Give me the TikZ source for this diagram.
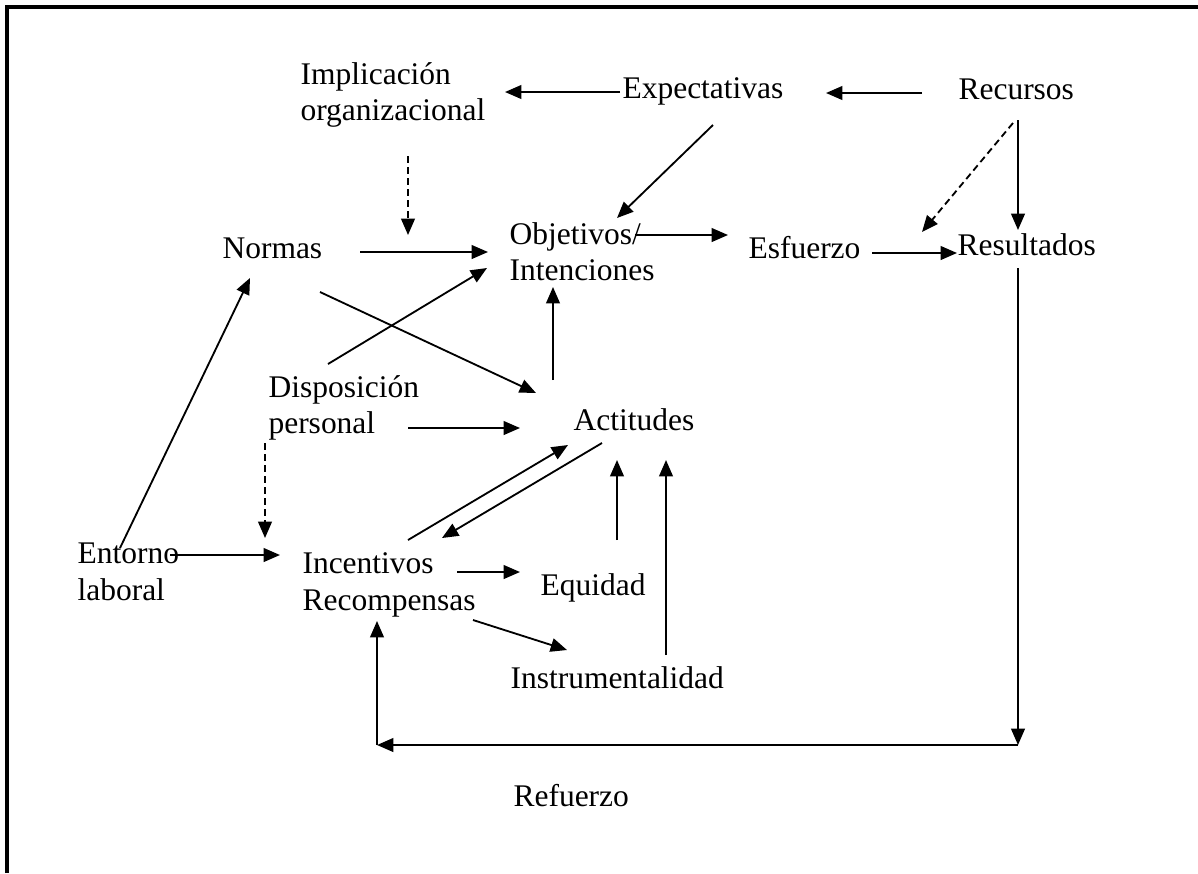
\documentclass[tikz,border=0pt]{standalone}
\usepackage{fontspec}
\setmainfont{Liberation Serif}
\usetikzlibrary{arrows.meta}
\begin{document}
\begin{tikzpicture}[x=0.381pt,y=-0.381pt,
  lbl/.style={anchor=base west,inner sep=0pt,font=\fontsize{12pt}{13.8pt}\selectfont},
  conn/.style={line width=0.7pt,-{Triangle[length=6.2pt,width=5.2pt]}},
  dconn/.style={conn,dash pattern=on 2.6pt off 1.6pt},
  frameline/.style={line width=1.15pt}]
\useasboundingbox (0,0) rectangle (1198,873);
\draw[frameline] (7,873) -- (7,7) -- (1198,7);
% labels
\node[lbl] (impl1) at (300,84) {Implicación};
\node[lbl] (impl2) at (300,120) {organizacional};
\node[lbl] (expect) at (622,98) {Expectativas};
\node[lbl] (recursos) at (958,99) {Recursos};
\node[lbl] (normas) at (222,258) {Normas};
\node[lbl] (obj1) at (509,244) {Objetivos/};
\node[lbl] (obj2) at (509,280) {Intenciones};
\node[lbl] (esfuerzo) at (748,258) {Esfuerzo};
\node[lbl] (resultados) at (957,255) {Resultados};
\node[lbl] (disp1) at (268,397) {Disposición};
\node[lbl] (disp2) at (268,433) {personal};
\node[lbl] (actitudes) at (573,430) {Actitudes};
\node[lbl] (entorno1) at (77,563) {Entorno};
\node[lbl] (entorno2) at (77,600) {laboral};
\node[lbl] (incent1) at (302,573) {Incentivos};
\node[lbl] (incent2) at (302,610) {Recompensas};
\node[lbl] (equidad) at (540,595) {Equidad};
\node[lbl] (instrum) at (510,688) {Instrumentalidad};
\node[lbl] (refuerzo) at (513,806) {Refuerzo};
% connector end points
\coordinate (expW) at (620,92);
\coordinate (implE) at (505,92);
\coordinate (recW) at (922,93);
\coordinate (expE) at (826,93);
\coordinate (implS) at (408,156);
\coordinate (objN) at (408,235);
\coordinate (expS) at (713,125);
\coordinate (objNE) at (617,218);
\coordinate (recS) at (1018,120);
\coordinate (resN) at (1018,230);
\coordinate (recSW) at (1013,123);
\coordinate (resNW) at (922,232);
\coordinate (normE) at (360,252);
\coordinate (objW) at (488,252);
\coordinate (objE) at (635,235);
\coordinate (esfW) at (728,235);
\coordinate (esfE) at (872,253);
\coordinate (resW) at (957,253);
\coordinate (entN) at (120,548);
\coordinate (normSW) at (250,278);
\coordinate (normSE) at (320,292);
\coordinate (actNW) at (536,393);
\coordinate (dispNE) at (328,364);
\coordinate (objSW) at (487,268);
\coordinate (actN) at (553,380);
\coordinate (objS) at (553,287);
\coordinate (dispE) at (408,428);
\coordinate (actW) at (520,428);
\coordinate (dispS) at (265,443);
\coordinate (incN) at (265,538);
\coordinate (entE) at (170,555);
\coordinate (incW) at (280,555);
\coordinate (incNE) at (408,540);
\coordinate (actSW) at (568,445);
\coordinate (actS) at (602,443);
\coordinate (incNE2) at (442,538);
\coordinate (equN) at (617,540);
\coordinate (actS1) at (617,460);
\coordinate (insN) at (666,655);
\coordinate (actS2) at (666,460);
\coordinate (incE) at (457,572);
\coordinate (equW) at (520,572);
\coordinate (recoSE) at (473,620);
\coordinate (insNW) at (567,650);
\coordinate (resS) at (1018,268);
\coordinate (cornerR) at (1018,745);
\coordinate (cornerL) at (377,745);
\coordinate (recoS) at (377,621);
% connectors
\draw[conn] (expW) -- (implE);
\draw[conn] (recW) -- (expE);
\draw[dconn] (implS) -- (objN);
\draw[conn] (expS) -- (objNE);
\draw[conn] (recS) -- (resN);
\draw[dconn] (recSW) -- (resNW);
\draw[conn] (normE) -- (objW);
\draw[conn] (objE) -- (esfW);
\draw[conn] (esfE) -- (resW);
\draw[conn] (entN) -- (normSW);
\draw[conn] (normSE) -- (actNW);
\draw[conn] (dispNE) -- (objSW);
\draw[conn] (actN) -- (objS);
\draw[conn] (dispE) -- (actW);
\draw[dconn] (dispS) -- (incN);
\draw[conn] (entE) -- (incW);
\draw[conn] (incNE) -- (actSW);
\draw[conn] (actS) -- (incNE2);
\draw[conn] (equN) -- (actS1);
\draw[conn] (insN) -- (actS2);
\draw[conn] (incE) -- (equW);
\draw[conn] (recoSE) -- (insNW);
\draw[conn] (resS) -- (cornerR);
\draw[conn] (cornerR) -- (cornerL);
\draw[conn] (cornerL) -- (recoS);
\end{tikzpicture}
\end{document}
